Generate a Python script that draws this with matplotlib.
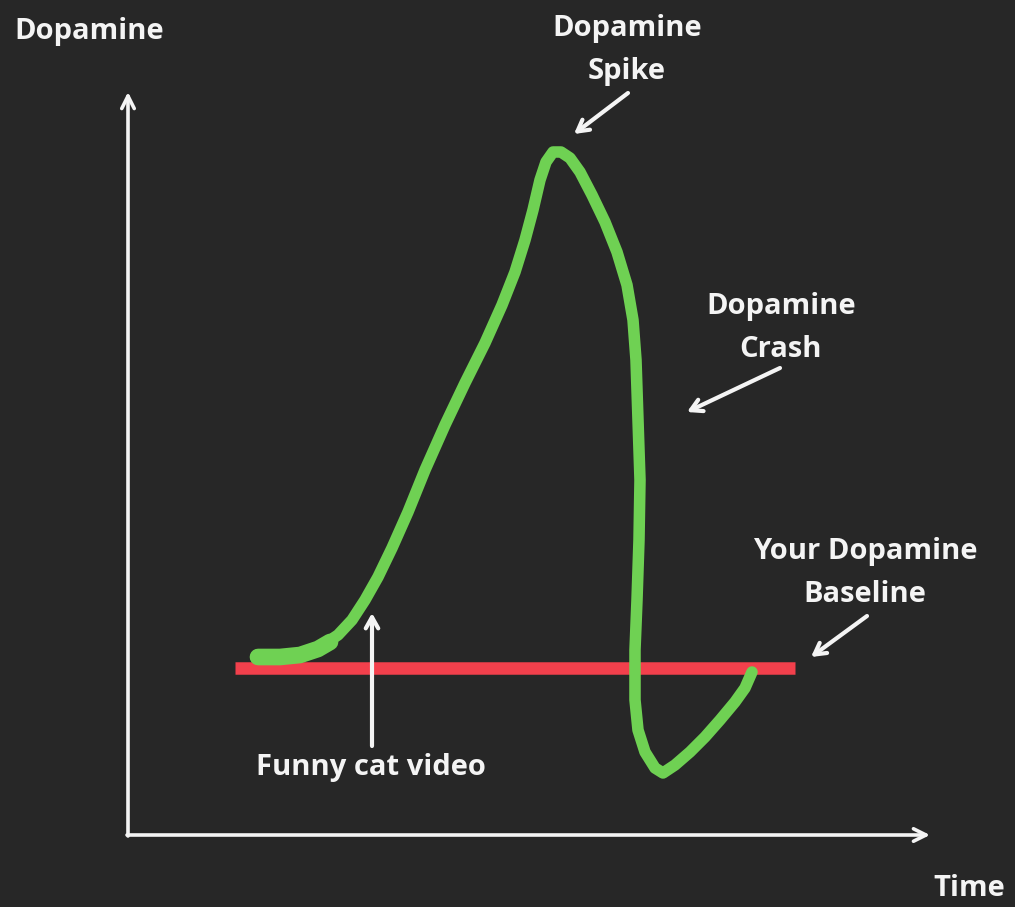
import matplotlib
matplotlib.use("Agg")
import matplotlib.pyplot as plt

# ---- data (in image units: x = time, y = dopamine, y grows downward) ----
curve_time = [258, 280, 300, 320, 338, 352, 365, 378, 392, 408, 425, 445, 465, 485, 502,
              515, 525, 533, 540, 546, 553, 561, 570, 580, 592, 605, 617, 627, 633, 636,
              638, 640, 639, 637, 635, 635, 638, 645, 655, 663, 675, 690, 705, 720, 735,
              745, 752]
curve_dopamine = [657, 657, 654, 647, 635, 620, 600, 577, 548, 512, 470, 425, 383, 343, 305,
                  272, 240, 210, 180, 162, 152, 152, 158, 172, 195, 222, 252, 285, 320, 360,
                  420, 480, 540, 600, 650, 700, 730, 752, 768, 773, 765, 752, 737, 720, 702,
                  688, 672]
blob_time = [258, 280, 300, 318, 330]
blob_dopamine = [657, 657, 655, 649, 642]

baseline_time = [235, 795]
baseline_dopamine = [668, 668]

axis_origin = (128, 835)
axis_y_top = 92
axis_x_right = 930

labels = ["Dopamine", "Dopamine\nSpike", "Dopamine\nCrash", "Your Dopamine\nBaseline",
          "Funny cat video", "Time"]
label_pos = [(14, 32), (627, 50), (781, 328), (865, 573), (371, 768), (969, 888)]
label_ha = ["left", "center", "center", "center", "center", "center"]

arrows = [  # (tail, head)
    ((628, 93), (574, 134)),
    ((780, 368), (687, 412)),
    ((867, 616), (811, 657)),
    ((372, 746), (372, 613)),
]

# ---- figure ----
W, H = 1015, 907
fig = plt.figure(figsize=(W / 100, H / 100), dpi=100)
fig.patch.set_facecolor("#272727")
ax = fig.add_axes([0, 0, 1, 1])
ax.set_facecolor("#272727")
ax.set_xlim(0, W)
ax.set_ylim(H, 0)
ax.axis("off")

white = "#f4f4f4"
green = "#6fd153"
red = "#f2404c"

# axes arrows
ax.annotate("", xy=(axis_origin[0], axis_y_top), xytext=(axis_origin[0], axis_origin[1] + 1),
            arrowprops=dict(arrowstyle="->,head_length=0.9,head_width=0.45", color=white, lw=2.6,
                            shrinkA=0, shrinkB=0))
ax.annotate("", xy=(axis_x_right, axis_origin[1]), xytext=(axis_origin[0] - 1, axis_origin[1]),
            arrowprops=dict(arrowstyle="->,head_length=0.9,head_width=0.45", color=white, lw=2.6,
                            shrinkA=0, shrinkB=0))

# baseline (red)
ax.plot(baseline_time, baseline_dopamine, color=red, lw=9, solid_capstyle="butt", zorder=3)

# dopamine curve (green)
ax.plot(curve_time, curve_dopamine, color=green, lw=8.3, solid_capstyle="round",
        solid_joinstyle="round", zorder=4)
ax.plot(blob_time, blob_dopamine, color=green, lw=12, solid_capstyle="round", zorder=4)

# annotation arrows
for tail, head in arrows:
    ax.annotate("", xy=head, xytext=tail,
                arrowprops=dict(arrowstyle="->,head_length=0.8,head_width=0.45", color=white,
                                lw=3, shrinkA=0, shrinkB=0), zorder=5)

# labels
for txt, (x, y), ha in zip(labels, label_pos, label_ha):
    ax.text(x, y, txt, color=white, fontsize=21, fontweight="bold", family="Open Sans",
            ha=ha, va="center", linespacing=1.6, zorder=6)

fig.savefig("out.png", dpi=100, facecolor=fig.get_facecolor())
